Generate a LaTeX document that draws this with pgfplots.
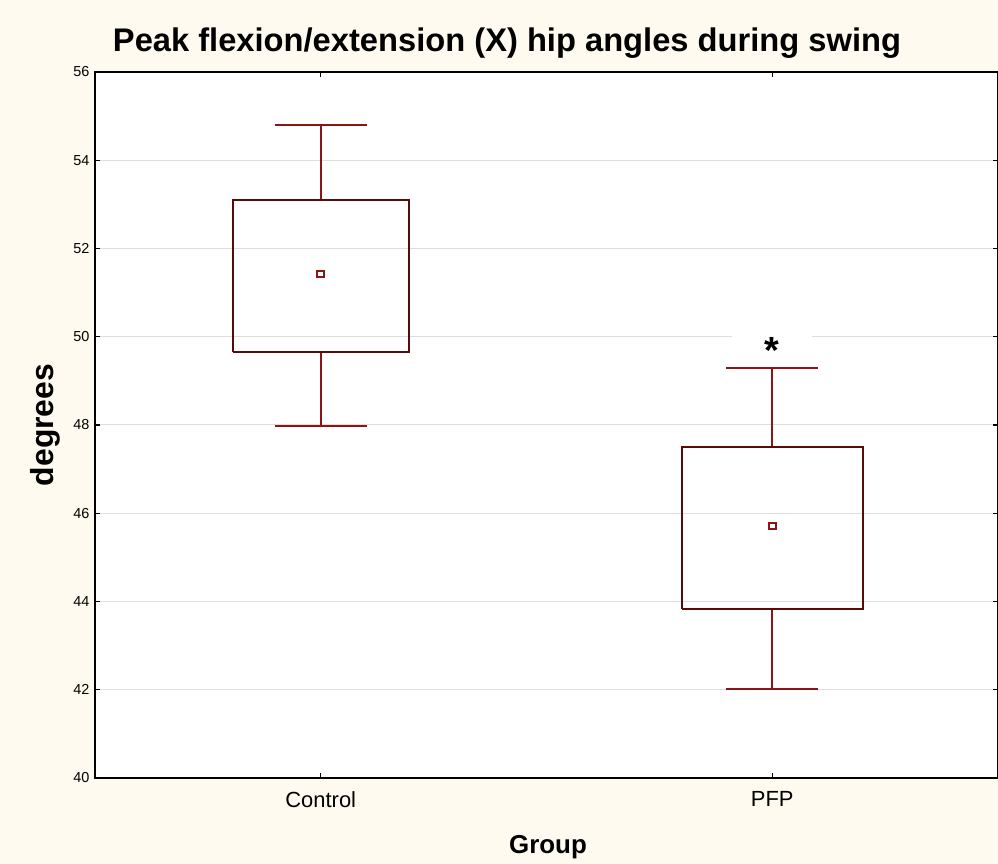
\documentclass[border=0pt]{standalone}
\usepackage{fontspec}
\setmainfont{Liberation Sans}
\usepackage{pgfplots}
\pgfplotsset{compat=1.18}
\definecolor{bgcream}{RGB}{254,250,239}
\definecolor{boxcol}{RGB}{90,10,10}
\definecolor{whiskcol}{RGB}{140,20,20}
\definecolor{gridcol}{RGB}{222,222,222}

\begin{document}
\begin{tikzpicture}
\fill[bgcream] (0,0) rectangle (998bp,864bp);
\useasboundingbox (0,0) rectangle (998bp,864bp);
\begin{axis}[
  at={(95bp,86bp)}, anchor=south west,
  width=903bp, height=706bp, scale only axis,
  axis background/.style={fill=white},
  xmin=0.5, xmax=2.5, ymin=40, ymax=56,
  xtick={1,2}, xticklabels={Control,PFP},
  ytick={40,42,...,56},
  ymajorgrids, grid style={gridcol, line width=1bp},
  axis line style={black, line width=1.5bp},
  major tick length=5bp,
  tick style={black, line width=1.2bp},
  yticklabel style={font=\fontsize{14.5}{16}\selectfont, xshift=-2bp},
  xticklabel style={font=\fontsize{22}{26}\selectfont, yshift=-10bp},
  /pgf/number format/assume math mode=true,
  clip=false,
]
% Control
\addplot[whiskcol, line width=2bp] coordinates {(1,53.10) (1,54.80)};
\addplot[whiskcol, line width=2bp] coordinates {(0.898,54.80) (1.102,54.80)};
\addplot[whiskcol, line width=2bp] coordinates {(1,49.65) (1,47.97)};
\addplot[whiskcol, line width=2bp] coordinates {(0.898,47.97) (1.102,47.97)};
\addplot[boxcol, line width=2bp, line join=miter] coordinates {
  (0.805,49.65) (1.195,49.65) (1.195,53.10) (0.805,53.10) (0.805,49.65)};
\addplot[only marks, mark=square, mark size=3.3bp,
  mark options={whiskcol, line width=2bp, fill=white}] coordinates {(1,51.42)};
% PFP
\node[fill=white, minimum width=80bp, minimum height=30bp, inner sep=0pt,
  font=\bfseries\fontsize{38}{38}\selectfont] at (axis cs:2,49.68) {*};
\addplot[whiskcol, line width=2bp] coordinates {(2,47.50) (2,49.29)};
\addplot[whiskcol, line width=2bp] coordinates {(1.898,49.29) (2.102,49.29)};
\addplot[whiskcol, line width=2bp] coordinates {(2,43.82) (2,42.01)};
\addplot[whiskcol, line width=2bp] coordinates {(1.898,42.01) (2.102,42.01)};
\addplot[boxcol, line width=2bp, line join=miter] coordinates {
  (1.80,43.82) (2.20,43.82) (2.20,47.50) (1.80,47.50) (1.80,43.82)};
\addplot[only marks, mark=square, mark size=3.3bp,
  mark options={whiskcol, line width=2bp, fill=white}] coordinates {(2,45.71)};
\end{axis}
\node[anchor=base, font=\bfseries\fontsize{32.8}{36}\selectfont] at (507bp,812bp)
  {Peak flexion/extension (X) hip angles during swing};
\node[anchor=base, font=\bfseries\fontsize{26}{30}\selectfont] at (548bp,11bp) {Group};
\node[anchor=base, rotate=90, font=\bfseries\fontsize{32}{36}\selectfont] at (53bp,439bp) {degrees};
\end{tikzpicture}
\end{document}
